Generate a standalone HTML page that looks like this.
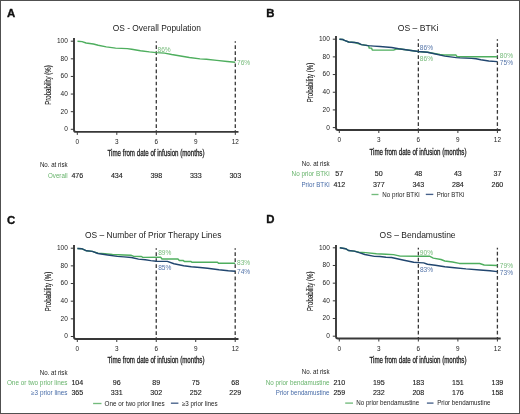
<!DOCTYPE html>
<html><head><meta charset="utf-8"><style>
html,body{margin:0;padding:0;background:#fff;}
body{width:520px;height:414px;overflow:hidden;}
svg{display:block;font-family:"Liberation Sans", sans-serif;will-change:transform;}
</style></head><body>
<svg width="520" height="414" viewBox="0 0 520 414" font-family='"Liberation Sans", sans-serif'>
<rect x="0" y="0" width="520" height="414" fill="#fff"/>
<text x="7.0" y="16.6" font-size="11.4" fill="#111" font-weight="bold" stroke="#111" stroke-width="0.35">A</text>
<text x="156.8" y="30.5" font-size="9.2" fill="#222" text-anchor="middle" textLength="88" lengthAdjust="spacingAndGlyphs">OS - Overall Population</text>
<path d="M74,38.1 L74,129.9 Q74,131.9 76,131.9 L238.5,131.9" fill="none" stroke="#383838" stroke-width="1.9"/>
<line x1="70.8" y1="129.30" x2="74" y2="129.30" stroke="#383838" stroke-width="1"/>
<text x="67.8" y="131.2" font-size="6.5" fill="#222" text-anchor="end">0</text>
<line x1="70.8" y1="111.68" x2="74" y2="111.68" stroke="#383838" stroke-width="1"/>
<text x="67.8" y="113.58" font-size="6.5" fill="#222" text-anchor="end">20</text>
<line x1="70.8" y1="94.06" x2="74" y2="94.06" stroke="#383838" stroke-width="1"/>
<text x="67.8" y="95.96" font-size="6.5" fill="#222" text-anchor="end">40</text>
<line x1="70.8" y1="76.44" x2="74" y2="76.44" stroke="#383838" stroke-width="1"/>
<text x="67.8" y="78.34" font-size="6.5" fill="#222" text-anchor="end">60</text>
<line x1="70.8" y1="58.82" x2="74" y2="58.82" stroke="#383838" stroke-width="1"/>
<text x="67.8" y="60.72" font-size="6.5" fill="#222" text-anchor="end">80</text>
<line x1="70.8" y1="41.20" x2="74" y2="41.20" stroke="#383838" stroke-width="1"/>
<text x="67.8" y="43.1" font-size="6.5" fill="#222" text-anchor="end">100</text>
<line x1="77.30" y1="131.9" x2="77.30" y2="134.9" stroke="#383838" stroke-width="1"/>
<text x="77.3" y="144.0" font-size="6.4" fill="#222" text-anchor="middle">0</text>
<line x1="116.80" y1="131.9" x2="116.80" y2="134.9" stroke="#383838" stroke-width="1"/>
<text x="116.8" y="144.0" font-size="6.4" fill="#222" text-anchor="middle">3</text>
<line x1="156.30" y1="131.9" x2="156.30" y2="134.9" stroke="#383838" stroke-width="1"/>
<text x="156.3" y="144.0" font-size="6.4" fill="#222" text-anchor="middle">6</text>
<line x1="195.80" y1="131.9" x2="195.80" y2="134.9" stroke="#383838" stroke-width="1"/>
<text x="195.8" y="144.0" font-size="6.4" fill="#222" text-anchor="middle">9</text>
<line x1="235.30" y1="131.9" x2="235.30" y2="134.9" stroke="#383838" stroke-width="1"/>
<text x="235.3" y="144.0" font-size="6.4" fill="#222" text-anchor="middle">12</text>
<line x1="156.30" y1="41.2" x2="156.30" y2="131.9" stroke="#383838" stroke-width="1.3" stroke-dasharray="3.7 2.38" stroke-dashoffset="2.1"/>
<line x1="235.30" y1="41.2" x2="235.30" y2="131.9" stroke="#383838" stroke-width="1.3" stroke-dasharray="3.7 2.38" stroke-dashoffset="2.1"/>
<text x="0" y="0" font-size="8.4" fill="#222" stroke="#222" stroke-width="0.12" text-anchor="middle" textLength="39.5" lengthAdjust="spacingAndGlyphs" transform="translate(50.8,85) rotate(-90)">Probability (%)</text>
<text x="156" y="156.20000000000002" font-size="8.8" fill="#222" text-anchor="middle" textLength="97" lengthAdjust="spacingAndGlyphs" stroke="#222" stroke-width="0.3">Time from date of infusion (months)</text>
<path d="M77.50,41.20 L82.10,41.60 L86.10,43.00 L93.40,44.00 L98.20,45.30 L106.30,46.90 L115.60,48.10 L127.30,48.60 L131.70,49.20 L140.50,50.70 L149.40,51.90 L156.30,52.60 L164.60,53.10 L171.70,54.50 L180.50,56.00 L189.40,57.50 L200.00,58.90 L206.40,59.30 L216.80,60.40 L227.20,61.50 L235.30,62.30" fill="none" stroke="#4eae5e" stroke-width="1.45" stroke-linejoin="round" stroke-linecap="butt"/>
<text x="157.5" y="52.3" font-size="6.5" fill="#76bb7a" textLength="13.2" lengthAdjust="spacingAndGlyphs">86%</text>
<text x="237" y="64.7" font-size="6.5" fill="#76bb7a" textLength="13.2" lengthAdjust="spacingAndGlyphs">76%</text>
<text x="67.6" y="167.2" font-size="6.4" fill="#222" text-anchor="end" textLength="27.7" lengthAdjust="spacingAndGlyphs">No. at risk</text>
<text x="67.6" y="178.0" font-size="6.4" fill="#68b46c" text-anchor="end" textLength="19.6" lengthAdjust="spacingAndGlyphs">Overall</text>
<text x="77.3" y="178.0" font-size="6.5" fill="#222" text-anchor="middle" textLength="11.85" lengthAdjust="spacingAndGlyphs" stroke="#222" stroke-width="0.12">476</text>
<text x="116.8" y="178.0" font-size="6.5" fill="#222" text-anchor="middle" textLength="11.85" lengthAdjust="spacingAndGlyphs" stroke="#222" stroke-width="0.12">434</text>
<text x="156.3" y="178.0" font-size="6.5" fill="#222" text-anchor="middle" textLength="11.85" lengthAdjust="spacingAndGlyphs" stroke="#222" stroke-width="0.12">398</text>
<text x="195.8" y="178.0" font-size="6.5" fill="#222" text-anchor="middle" textLength="11.85" lengthAdjust="spacingAndGlyphs" stroke="#222" stroke-width="0.12">333</text>
<text x="235.3" y="178.0" font-size="6.5" fill="#222" text-anchor="middle" textLength="11.85" lengthAdjust="spacingAndGlyphs" stroke="#222" stroke-width="0.12">303</text>
<text x="266.3" y="16.5" font-size="11.4" fill="#111" font-weight="bold" stroke="#111" stroke-width="0.35">B</text>
<text x="418.1" y="30.6" font-size="9.2" fill="#222" text-anchor="middle" textLength="40.6" lengthAdjust="spacingAndGlyphs">OS – BTKi</text>
<path d="M336,36.1 L336,128 Q336,130 338,130 L500.7,130" fill="none" stroke="#383838" stroke-width="1.9"/>
<line x1="332.8" y1="127.60" x2="336" y2="127.60" stroke="#383838" stroke-width="1"/>
<text x="329.8" y="129.5" font-size="6.5" fill="#222" text-anchor="end">0</text>
<line x1="332.8" y1="109.92" x2="336" y2="109.92" stroke="#383838" stroke-width="1"/>
<text x="329.8" y="111.82" font-size="6.5" fill="#222" text-anchor="end">20</text>
<line x1="332.8" y1="92.24" x2="336" y2="92.24" stroke="#383838" stroke-width="1"/>
<text x="329.8" y="94.14" font-size="6.5" fill="#222" text-anchor="end">40</text>
<line x1="332.8" y1="74.56" x2="336" y2="74.56" stroke="#383838" stroke-width="1"/>
<text x="329.8" y="76.46" font-size="6.5" fill="#222" text-anchor="end">60</text>
<line x1="332.8" y1="56.88" x2="336" y2="56.88" stroke="#383838" stroke-width="1"/>
<text x="329.8" y="58.78" font-size="6.5" fill="#222" text-anchor="end">80</text>
<line x1="332.8" y1="39.20" x2="336" y2="39.20" stroke="#383838" stroke-width="1"/>
<text x="329.8" y="41.1" font-size="6.5" fill="#222" text-anchor="end">100</text>
<line x1="339.30" y1="130" x2="339.30" y2="133" stroke="#383838" stroke-width="1"/>
<text x="339.3" y="142.2" font-size="6.4" fill="#222" text-anchor="middle">0</text>
<line x1="378.82" y1="130" x2="378.82" y2="133" stroke="#383838" stroke-width="1"/>
<text x="378.82" y="142.2" font-size="6.4" fill="#222" text-anchor="middle">3</text>
<line x1="418.35" y1="130" x2="418.35" y2="133" stroke="#383838" stroke-width="1"/>
<text x="418.35" y="142.2" font-size="6.4" fill="#222" text-anchor="middle">6</text>
<line x1="457.88" y1="130" x2="457.88" y2="133" stroke="#383838" stroke-width="1"/>
<text x="457.88" y="142.2" font-size="6.4" fill="#222" text-anchor="middle">9</text>
<line x1="497.40" y1="130" x2="497.40" y2="133" stroke="#383838" stroke-width="1"/>
<text x="497.4" y="142.2" font-size="6.4" fill="#222" text-anchor="middle">12</text>
<line x1="418.35" y1="39.2" x2="418.35" y2="130" stroke="#383838" stroke-width="1.3" stroke-dasharray="3.7 2.38" stroke-dashoffset="2.1"/>
<line x1="497.40" y1="39.2" x2="497.40" y2="130" stroke="#383838" stroke-width="1.3" stroke-dasharray="3.7 2.38" stroke-dashoffset="2.1"/>
<text x="0" y="0" font-size="8.4" fill="#222" stroke="#222" stroke-width="0.12" text-anchor="middle" textLength="39.5" lengthAdjust="spacingAndGlyphs" transform="translate(313.0,82.5) rotate(-90)">Probability (%)</text>
<text x="418" y="155.1" font-size="8.8" fill="#222" text-anchor="middle" textLength="97" lengthAdjust="spacingAndGlyphs" stroke="#222" stroke-width="0.3">Time from date of infusion (months)</text>
<path d="M339.40,39.30 L342.80,39.50 L344.50,40.30 L348.70,42.00 L354.60,42.50 L361.40,44.60 L367.00,45.50 L368.60,45.60 L369.20,48.10 L371.50,48.10 L372.30,50.10 L393.50,50.10 L396.50,49.00 L398.60,48.70 L418.20,51.50 L427.50,52.30 L440.00,54.50 L444.00,55.00 L456.00,55.00 L457.00,56.70 L497.40,56.70" fill="none" stroke="#4eae5e" stroke-width="1.45" stroke-linejoin="round" stroke-linecap="butt"/>
<path d="M339.40,39.30 L342.80,39.50 L344.50,40.30 L348.70,42.00 L354.60,42.50 L358.00,42.90 L361.40,44.60 L368.10,45.60 L374.00,46.10 L380.00,46.50 L391.70,47.50 L398.60,48.70 L418.20,51.50 L427.50,52.30 L444.80,56.10 L456.40,57.60 L460.00,57.90 L471.50,58.40 L476.00,58.80 L480.80,59.80 L488.80,61.00 L497.40,61.60" fill="none" stroke="#21466f" stroke-width="1.45" stroke-linejoin="round" stroke-linecap="butt"/>
<text x="419.8" y="50.3" font-size="6.5" fill="#5676aa" textLength="13.2" lengthAdjust="spacingAndGlyphs">86%</text>
<text x="419.8" y="60.7" font-size="6.5" fill="#76bb7a" textLength="13.2" lengthAdjust="spacingAndGlyphs">86%</text>
<text x="499.8" y="58.4" font-size="6.5" fill="#76bb7a" textLength="13.2" lengthAdjust="spacingAndGlyphs">80%</text>
<text x="499.8" y="65.4" font-size="6.5" fill="#5676aa" textLength="13.2" lengthAdjust="spacingAndGlyphs">75%</text>
<text x="329.7" y="166.0" font-size="6.4" fill="#222" text-anchor="end" textLength="27.9" lengthAdjust="spacingAndGlyphs">No. at risk</text>
<text x="329.7" y="176.4" font-size="6.4" fill="#68b46c" text-anchor="end" textLength="38.1" lengthAdjust="spacingAndGlyphs">No prior BTKi</text>
<text x="329.7" y="186.6" font-size="6.4" fill="#486ca8" text-anchor="end" textLength="28.3" lengthAdjust="spacingAndGlyphs">Prior BTKi</text>
<text x="339.3" y="176.4" font-size="6.5" fill="#222" text-anchor="middle" textLength="7.9" lengthAdjust="spacingAndGlyphs" stroke="#222" stroke-width="0.12">57</text>
<text x="378.82" y="176.4" font-size="6.5" fill="#222" text-anchor="middle" textLength="7.9" lengthAdjust="spacingAndGlyphs" stroke="#222" stroke-width="0.12">50</text>
<text x="418.35" y="176.4" font-size="6.5" fill="#222" text-anchor="middle" textLength="7.9" lengthAdjust="spacingAndGlyphs" stroke="#222" stroke-width="0.12">48</text>
<text x="457.88" y="176.4" font-size="6.5" fill="#222" text-anchor="middle" textLength="7.9" lengthAdjust="spacingAndGlyphs" stroke="#222" stroke-width="0.12">43</text>
<text x="497.4" y="176.4" font-size="6.5" fill="#222" text-anchor="middle" textLength="7.9" lengthAdjust="spacingAndGlyphs" stroke="#222" stroke-width="0.12">37</text>
<text x="339.3" y="186.6" font-size="6.5" fill="#222" text-anchor="middle" textLength="11.85" lengthAdjust="spacingAndGlyphs" stroke="#222" stroke-width="0.12">412</text>
<text x="378.82" y="186.6" font-size="6.5" fill="#222" text-anchor="middle" textLength="11.85" lengthAdjust="spacingAndGlyphs" stroke="#222" stroke-width="0.12">377</text>
<text x="418.35" y="186.6" font-size="6.5" fill="#222" text-anchor="middle" textLength="11.85" lengthAdjust="spacingAndGlyphs" stroke="#222" stroke-width="0.12">343</text>
<text x="457.88" y="186.6" font-size="6.5" fill="#222" text-anchor="middle" textLength="11.85" lengthAdjust="spacingAndGlyphs" stroke="#222" stroke-width="0.12">284</text>
<text x="497.4" y="186.6" font-size="6.5" fill="#222" text-anchor="middle" textLength="11.85" lengthAdjust="spacingAndGlyphs" stroke="#222" stroke-width="0.12">260</text>
<line x1="371.5" y1="194.5" x2="378.5" y2="194.5" stroke="#72bb7c" stroke-width="1.35"/>
<text x="382.3" y="196.8" font-size="6.4" fill="#222" textLength="37.4" lengthAdjust="spacingAndGlyphs">No prior BTKi</text>
<line x1="425.8" y1="194.4" x2="433.3" y2="194.4" stroke="#46618a" stroke-width="1.35"/>
<text x="436.7" y="196.7" font-size="6.4" fill="#222" textLength="27.7" lengthAdjust="spacingAndGlyphs">Prior BTKi</text>
<text x="7.0" y="223.6" font-size="11.4" fill="#111" font-weight="bold" stroke="#111" stroke-width="0.35">C</text>
<text x="153.2" y="237.6" font-size="9.2" fill="#222" text-anchor="middle" textLength="136.4" lengthAdjust="spacingAndGlyphs">OS – Number of Prior Therapy Lines</text>
<path d="M74,244.9 L74,337 Q74,339 76,339 L238.5,339" fill="none" stroke="#383838" stroke-width="1.9"/>
<line x1="70.8" y1="336.50" x2="74" y2="336.50" stroke="#383838" stroke-width="1"/>
<text x="67.8" y="338.4" font-size="6.5" fill="#222" text-anchor="end">0</text>
<line x1="70.8" y1="318.84" x2="74" y2="318.84" stroke="#383838" stroke-width="1"/>
<text x="67.8" y="320.74" font-size="6.5" fill="#222" text-anchor="end">20</text>
<line x1="70.8" y1="301.18" x2="74" y2="301.18" stroke="#383838" stroke-width="1"/>
<text x="67.8" y="303.08" font-size="6.5" fill="#222" text-anchor="end">40</text>
<line x1="70.8" y1="283.52" x2="74" y2="283.52" stroke="#383838" stroke-width="1"/>
<text x="67.8" y="285.42" font-size="6.5" fill="#222" text-anchor="end">60</text>
<line x1="70.8" y1="265.86" x2="74" y2="265.86" stroke="#383838" stroke-width="1"/>
<text x="67.8" y="267.76" font-size="6.5" fill="#222" text-anchor="end">80</text>
<line x1="70.8" y1="248.20" x2="74" y2="248.20" stroke="#383838" stroke-width="1"/>
<text x="67.8" y="250.1" font-size="6.5" fill="#222" text-anchor="end">100</text>
<line x1="77.30" y1="339" x2="77.30" y2="342" stroke="#383838" stroke-width="1"/>
<text x="77.3" y="351.1" font-size="6.4" fill="#222" text-anchor="middle">0</text>
<line x1="116.77" y1="339" x2="116.77" y2="342" stroke="#383838" stroke-width="1"/>
<text x="116.77" y="351.1" font-size="6.4" fill="#222" text-anchor="middle">3</text>
<line x1="156.25" y1="339" x2="156.25" y2="342" stroke="#383838" stroke-width="1"/>
<text x="156.25" y="351.1" font-size="6.4" fill="#222" text-anchor="middle">6</text>
<line x1="195.72" y1="339" x2="195.72" y2="342" stroke="#383838" stroke-width="1"/>
<text x="195.72" y="351.1" font-size="6.4" fill="#222" text-anchor="middle">9</text>
<line x1="235.20" y1="339" x2="235.20" y2="342" stroke="#383838" stroke-width="1"/>
<text x="235.2" y="351.1" font-size="6.4" fill="#222" text-anchor="middle">12</text>
<line x1="156.25" y1="248.2" x2="156.25" y2="339" stroke="#383838" stroke-width="1.3" stroke-dasharray="3.7 2.38" stroke-dashoffset="2.1"/>
<line x1="235.20" y1="248.2" x2="235.20" y2="339" stroke="#383838" stroke-width="1.3" stroke-dasharray="3.7 2.38" stroke-dashoffset="2.1"/>
<text x="0" y="0" font-size="8.4" fill="#222" stroke="#222" stroke-width="0.12" text-anchor="middle" textLength="39.5" lengthAdjust="spacingAndGlyphs" transform="translate(51.0,291.5) rotate(-90)">Probability (%)</text>
<text x="156" y="363.4" font-size="8.8" fill="#222" text-anchor="middle" textLength="97" lengthAdjust="spacingAndGlyphs" stroke="#222" stroke-width="0.3">Time from date of infusion (months)</text>
<path d="M77.40,248.50 L81.70,248.70 L86.50,250.80 L92.30,251.40 L98.00,253.20 L105.00,253.60 L112.50,254.50 L124.00,255.00 L130.80,255.20 L133.80,256.40 L141.50,256.50 L142.80,257.40 L160.80,257.30 L162.00,259.00 L178.00,259.00 L179.30,260.40 L183.00,260.40 L184.30,261.40 L190.70,261.40 L191.80,262.20 L217.50,262.20 L218.50,263.30 L235.20,263.30" fill="none" stroke="#4eae5e" stroke-width="1.45" stroke-linejoin="round" stroke-linecap="butt"/>
<path d="M77.40,248.50 L81.70,248.70 L86.50,250.80 L92.30,251.40 L98.00,253.50 L107.70,255.00 L117.30,256.40 L124.00,256.90 L131.50,257.50 L138.50,259.10 L145.40,259.80 L150.80,260.60 L156.30,261.20 L167.30,261.40 L174.00,263.80 L183.70,265.70 L191.30,266.70 L200.00,267.50 L207.50,268.20 L219.00,269.80 L228.30,270.80 L235.20,271.30" fill="none" stroke="#21466f" stroke-width="1.45" stroke-linejoin="round" stroke-linecap="butt"/>
<text x="158.2" y="255.0" font-size="6.5" fill="#76bb7a" textLength="13.2" lengthAdjust="spacingAndGlyphs">89%</text>
<text x="158.2" y="269.9" font-size="6.5" fill="#5676aa" textLength="13.2" lengthAdjust="spacingAndGlyphs">85%</text>
<text x="237" y="265.0" font-size="6.5" fill="#76bb7a" textLength="13.2" lengthAdjust="spacingAndGlyphs">83%</text>
<text x="237" y="274.4" font-size="6.5" fill="#5676aa" textLength="13.2" lengthAdjust="spacingAndGlyphs">74%</text>
<text x="67.5" y="374.8" font-size="6.4" fill="#222" text-anchor="end" textLength="27.7" lengthAdjust="spacingAndGlyphs">No. at risk</text>
<text x="67.5" y="385.3" font-size="6.4" fill="#68b46c" text-anchor="end" textLength="60.6" lengthAdjust="spacingAndGlyphs">One or two prior lines</text>
<text x="67.5" y="395.40000000000003" font-size="6.4" fill="#486ca8" text-anchor="end" textLength="36.4" lengthAdjust="spacingAndGlyphs">≥3 prior lines</text>
<text x="77.3" y="385.3" font-size="6.5" fill="#222" text-anchor="middle" textLength="11.85" lengthAdjust="spacingAndGlyphs" stroke="#222" stroke-width="0.12">104</text>
<text x="116.77" y="385.3" font-size="6.5" fill="#222" text-anchor="middle" textLength="7.9" lengthAdjust="spacingAndGlyphs" stroke="#222" stroke-width="0.12">96</text>
<text x="156.25" y="385.3" font-size="6.5" fill="#222" text-anchor="middle" textLength="7.9" lengthAdjust="spacingAndGlyphs" stroke="#222" stroke-width="0.12">89</text>
<text x="195.72" y="385.3" font-size="6.5" fill="#222" text-anchor="middle" textLength="7.9" lengthAdjust="spacingAndGlyphs" stroke="#222" stroke-width="0.12">75</text>
<text x="235.2" y="385.3" font-size="6.5" fill="#222" text-anchor="middle" textLength="7.9" lengthAdjust="spacingAndGlyphs" stroke="#222" stroke-width="0.12">68</text>
<text x="77.3" y="395.40000000000003" font-size="6.5" fill="#222" text-anchor="middle" textLength="11.85" lengthAdjust="spacingAndGlyphs" stroke="#222" stroke-width="0.12">365</text>
<text x="116.77" y="395.40000000000003" font-size="6.5" fill="#222" text-anchor="middle" textLength="11.85" lengthAdjust="spacingAndGlyphs" stroke="#222" stroke-width="0.12">331</text>
<text x="156.25" y="395.40000000000003" font-size="6.5" fill="#222" text-anchor="middle" textLength="11.85" lengthAdjust="spacingAndGlyphs" stroke="#222" stroke-width="0.12">302</text>
<text x="195.72" y="395.40000000000003" font-size="6.5" fill="#222" text-anchor="middle" textLength="11.85" lengthAdjust="spacingAndGlyphs" stroke="#222" stroke-width="0.12">252</text>
<text x="235.2" y="395.40000000000003" font-size="6.5" fill="#222" text-anchor="middle" textLength="11.85" lengthAdjust="spacingAndGlyphs" stroke="#222" stroke-width="0.12">229</text>
<line x1="93.1" y1="403.5" x2="101.5" y2="403.5" stroke="#72bb7c" stroke-width="1.35"/>
<text x="104.6" y="405.8" font-size="6.4" fill="#222" textLength="60" lengthAdjust="spacingAndGlyphs">One or two prior lines</text>
<line x1="170.9" y1="403.2" x2="178.4" y2="403.2" stroke="#46618a" stroke-width="1.35"/>
<text x="181.9" y="405.5" font-size="6.4" fill="#222" textLength="35.7" lengthAdjust="spacingAndGlyphs">≥3 prior lines</text>
<text x="266.3" y="223.4" font-size="11.4" fill="#111" font-weight="bold" stroke="#111" stroke-width="0.35">D</text>
<text x="417.6" y="237.7" font-size="9.2" fill="#222" text-anchor="middle" textLength="76" lengthAdjust="spacingAndGlyphs">OS – Bendamustine</text>
<path d="M336,244.9 L336,336.5 Q336,338.5 338,338.5 L500.7,338.5" fill="none" stroke="#383838" stroke-width="1.9"/>
<line x1="332.8" y1="336.20" x2="336" y2="336.20" stroke="#383838" stroke-width="1"/>
<text x="329.8" y="338.1" font-size="6.5" fill="#222" text-anchor="end">0</text>
<line x1="332.8" y1="318.52" x2="336" y2="318.52" stroke="#383838" stroke-width="1"/>
<text x="329.8" y="320.42" font-size="6.5" fill="#222" text-anchor="end">20</text>
<line x1="332.8" y1="300.84" x2="336" y2="300.84" stroke="#383838" stroke-width="1"/>
<text x="329.8" y="302.74" font-size="6.5" fill="#222" text-anchor="end">40</text>
<line x1="332.8" y1="283.16" x2="336" y2="283.16" stroke="#383838" stroke-width="1"/>
<text x="329.8" y="285.06" font-size="6.5" fill="#222" text-anchor="end">60</text>
<line x1="332.8" y1="265.48" x2="336" y2="265.48" stroke="#383838" stroke-width="1"/>
<text x="329.8" y="267.38" font-size="6.5" fill="#222" text-anchor="end">80</text>
<line x1="332.8" y1="247.80" x2="336" y2="247.80" stroke="#383838" stroke-width="1"/>
<text x="329.8" y="249.7" font-size="6.5" fill="#222" text-anchor="end">100</text>
<line x1="339.30" y1="338.5" x2="339.30" y2="341.5" stroke="#383838" stroke-width="1"/>
<text x="339.3" y="350.7" font-size="6.4" fill="#222" text-anchor="middle">0</text>
<line x1="378.82" y1="338.5" x2="378.82" y2="341.5" stroke="#383838" stroke-width="1"/>
<text x="378.82" y="350.7" font-size="6.4" fill="#222" text-anchor="middle">3</text>
<line x1="418.35" y1="338.5" x2="418.35" y2="341.5" stroke="#383838" stroke-width="1"/>
<text x="418.35" y="350.7" font-size="6.4" fill="#222" text-anchor="middle">6</text>
<line x1="457.88" y1="338.5" x2="457.88" y2="341.5" stroke="#383838" stroke-width="1"/>
<text x="457.88" y="350.7" font-size="6.4" fill="#222" text-anchor="middle">9</text>
<line x1="497.40" y1="338.5" x2="497.40" y2="341.5" stroke="#383838" stroke-width="1"/>
<text x="497.4" y="350.7" font-size="6.4" fill="#222" text-anchor="middle">12</text>
<line x1="418.35" y1="247.8" x2="418.35" y2="338.5" stroke="#383838" stroke-width="1.3" stroke-dasharray="3.7 2.38" stroke-dashoffset="2.1"/>
<line x1="497.40" y1="247.8" x2="497.40" y2="338.5" stroke="#383838" stroke-width="1.3" stroke-dasharray="3.7 2.38" stroke-dashoffset="2.1"/>
<text x="0" y="0" font-size="8.4" fill="#222" stroke="#222" stroke-width="0.12" text-anchor="middle" textLength="39.5" lengthAdjust="spacingAndGlyphs" transform="translate(312.8,291.2) rotate(-90)">Probability (%)</text>
<text x="418" y="362.79999999999995" font-size="8.8" fill="#222" text-anchor="middle" textLength="97" lengthAdjust="spacingAndGlyphs" stroke="#222" stroke-width="0.3">Time from date of infusion (months)</text>
<path d="M339.80,247.80 L345.60,248.70 L348.50,250.50 L354.30,251.10 L359.10,252.20 L365.80,252.60 L376.40,253.80 L386.00,254.30 L393.50,254.60 L400.20,256.10 L418.30,256.20 L429.50,256.20 L433.30,258.10 L441.00,259.50 L444.80,261.00 L452.50,262.00 L459.30,263.40 L479.60,263.50 L484.20,265.00 L497.40,265.50" fill="none" stroke="#4eae5e" stroke-width="1.45" stroke-linejoin="round" stroke-linecap="butt"/>
<path d="M339.80,247.80 L345.60,248.70 L348.50,250.50 L354.30,251.10 L359.10,252.60 L364.80,254.50 L374.50,256.40 L380.00,256.50 L386.00,257.20 L391.50,257.50 L404.00,260.30 L413.70,262.30 L418.30,262.60 L423.70,262.90 L427.50,264.30 L435.20,265.30 L444.80,266.80 L454.50,267.70 L466.00,268.90 L480.00,270.00 L490.00,270.80 L497.40,271.60" fill="none" stroke="#21466f" stroke-width="1.45" stroke-linejoin="round" stroke-linecap="butt"/>
<text x="419.8" y="254.6" font-size="6.5" fill="#76bb7a" textLength="13.2" lengthAdjust="spacingAndGlyphs">90%</text>
<text x="419.9" y="272.3" font-size="6.5" fill="#5676aa" textLength="13.2" lengthAdjust="spacingAndGlyphs">83%</text>
<text x="499.8" y="267.8" font-size="6.5" fill="#76bb7a" textLength="13.2" lengthAdjust="spacingAndGlyphs">79%</text>
<text x="499.8" y="274.8" font-size="6.5" fill="#5676aa" textLength="13.2" lengthAdjust="spacingAndGlyphs">73%</text>
<text x="329.5" y="373.70000000000005" font-size="6.4" fill="#222" text-anchor="end" textLength="27.7" lengthAdjust="spacingAndGlyphs">No. at risk</text>
<text x="329.5" y="384.90000000000003" font-size="6.4" fill="#68b46c" text-anchor="end" textLength="63.7" lengthAdjust="spacingAndGlyphs">No prior bendamustine</text>
<text x="329.5" y="395.3" font-size="6.4" fill="#486ca8" text-anchor="end" textLength="53.7" lengthAdjust="spacingAndGlyphs">Prior bendamustine</text>
<text x="339.3" y="384.90000000000003" font-size="6.5" fill="#222" text-anchor="middle" textLength="11.85" lengthAdjust="spacingAndGlyphs" stroke="#222" stroke-width="0.12">210</text>
<text x="378.82" y="384.90000000000003" font-size="6.5" fill="#222" text-anchor="middle" textLength="11.85" lengthAdjust="spacingAndGlyphs" stroke="#222" stroke-width="0.12">195</text>
<text x="418.35" y="384.90000000000003" font-size="6.5" fill="#222" text-anchor="middle" textLength="11.85" lengthAdjust="spacingAndGlyphs" stroke="#222" stroke-width="0.12">183</text>
<text x="457.88" y="384.90000000000003" font-size="6.5" fill="#222" text-anchor="middle" textLength="11.85" lengthAdjust="spacingAndGlyphs" stroke="#222" stroke-width="0.12">151</text>
<text x="497.4" y="384.90000000000003" font-size="6.5" fill="#222" text-anchor="middle" textLength="11.85" lengthAdjust="spacingAndGlyphs" stroke="#222" stroke-width="0.12">139</text>
<text x="339.3" y="395.3" font-size="6.5" fill="#222" text-anchor="middle" textLength="11.85" lengthAdjust="spacingAndGlyphs" stroke="#222" stroke-width="0.12">259</text>
<text x="378.82" y="395.3" font-size="6.5" fill="#222" text-anchor="middle" textLength="11.85" lengthAdjust="spacingAndGlyphs" stroke="#222" stroke-width="0.12">232</text>
<text x="418.35" y="395.3" font-size="6.5" fill="#222" text-anchor="middle" textLength="11.85" lengthAdjust="spacingAndGlyphs" stroke="#222" stroke-width="0.12">208</text>
<text x="457.88" y="395.3" font-size="6.5" fill="#222" text-anchor="middle" textLength="11.85" lengthAdjust="spacingAndGlyphs" stroke="#222" stroke-width="0.12">176</text>
<text x="497.4" y="395.3" font-size="6.5" fill="#222" text-anchor="middle" textLength="11.85" lengthAdjust="spacingAndGlyphs" stroke="#222" stroke-width="0.12">158</text>
<line x1="345.2" y1="403.1" x2="353" y2="403.1" stroke="#72bb7c" stroke-width="1.35"/>
<text x="356.2" y="405.4" font-size="6.4" fill="#222" textLength="63" lengthAdjust="spacingAndGlyphs">No prior bendamustine</text>
<line x1="426.9" y1="403.1" x2="433.5" y2="403.1" stroke="#46618a" stroke-width="1.35"/>
<text x="437.2" y="405.4" font-size="6.4" fill="#222" textLength="53.3" lengthAdjust="spacingAndGlyphs">Prior bendamustine</text>
<rect x="0.5" y="0.5" width="519" height="413" fill="none" stroke="#505050" stroke-width="1"/>
</svg>
</body></html>
